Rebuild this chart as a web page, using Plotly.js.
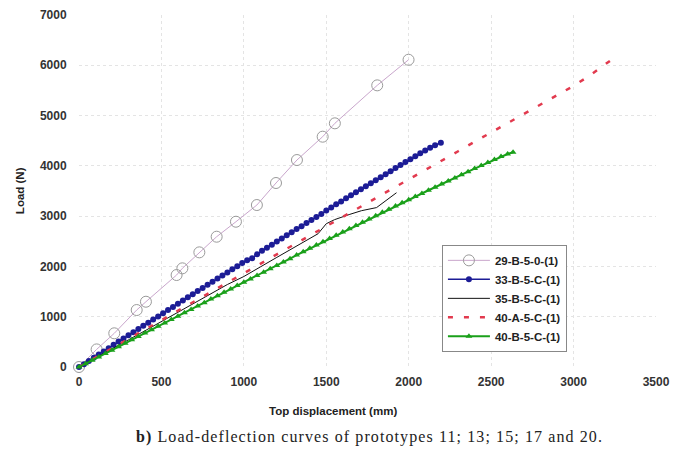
<!DOCTYPE html>
<html>
<head>
<meta charset="utf-8">
<script src="https://cdn.plot.ly/plotly-3.0.1.min.js"></script>
<style>
html,body{margin:0;padding:0;background:#fff;}
#chart{width:688px;height:458px;}
#chart .annotation[data-index="2"] text{letter-spacing:1.1px;}
</style>
</head>
<body>
<div id="chart"></div>
<script>
// Series names
const seriesNames = ["29-B-5-0-(1)", "33-B-5-C-(1)", "35-B-5-C-(1)", "40-A-5-C-(1)", "40-B-5-C-(1)"];

// 29-B-5-0-(1)
const s29x = [0, 107, 214, 350, 406, 592, 627, 730, 835, 952, 1079, 1195, 1322, 1478, 1552, 1809, 1999];
const s29y = [0, 350, 670, 1133, 1298, 1829, 1962, 2280, 2591, 2889, 3221, 3659, 4116, 4580, 4846, 5601, 6110];

// 33-B-5-C-(1)
const s33x = [0,30,60,90,120,150,180,210,240,270,300,330,360,390,420,450,480,510,540,570,600,630,660,690,720,750,780,810,840,870,900,930,960,990,1020,1050,1080,1110,1140,1170,1200,1230,1260,1290,1320,1350,1380,1410,1440,1470,1500,1530,1560,1590,1620,1650,1680,1710,1740,1770,1800,1830,1860,1890,1920,1950,1980,2010,2040,2070,2100,2130,2160,2195];
const s33y = [0,55,120,185,250,310,375,440,505,565,630,690,755,820,880,945,1005,1070,1135,1195,1260,1320,1385,1445,1510,1570,1635,1695,1760,1820,1880,1945,2005,2070,2125,2165,2240,2310,2370,2430,2495,2555,2620,2680,2745,2800,2865,2925,2985,3045,3110,3170,3235,3290,3355,3415,3475,3535,3595,3655,3715,3775,3835,3895,3955,4015,4075,4130,4190,4250,4305,4360,4410,4460];

// 35-B-5-C-(1)
const s35x = [0,100,200,300,400,500,600,700,800,900,1000,1050,1100,1200,1300,1400,1450,1500,1550,1643,1714,1805,1870,1926];
const s35y = [0,175,355,540,720,905,1085,1270,1450,1640,1800,1900,1990,2180,2370,2560,2650,2850,2930,3036,3109,3170,3320,3466];

// 40-A-5-C-(1)
const s40ax = [0,100,200,300,400,500,600,700,800,900,1000,1100,1200,1300,1400,1500,1600,1700,1800,1900,2000,2100,2200,2300,2400,2500,2600,2700,2800,2900,3000,3100,3230];
const s40ay = [0,185,370,560,745,935,1120,1305,1490,1680,1865,2050,2240,2425,2610,2800,2985,3170,3360,3545,3730,3920,4105,4290,4480,4665,4850,5040,5225,5410,5590,5800,6110];

// 40-B-5-C-(1)
const s40bx = [0,40,80,120,160,200,240,280,320,360,400,440,480,520,560,600,640,680,720,760,800,840,880,920,960,1000,1040,1080,1120,1160,1200,1240,1280,1320,1360,1400,1440,1480,1520,1560,1600,1640,1680,1720,1760,1800,1840,1880,1920,1960,2000,2040,2080,2120,2160,2200,2240,2280,2320,2360,2400,2440,2480,2520,2560,2600,2633];
const s40by = [0,65,135,200,270,335,405,470,540,605,675,740,810,875,945,1010,1080,1145,1215,1280,1350,1415,1485,1550,1620,1685,1750,1820,1885,1955,2020,2090,2155,2225,2290,2360,2425,2490,2555,2620,2685,2750,2815,2880,2945,3010,3075,3135,3200,3265,3325,3390,3450,3515,3575,3640,3700,3760,3825,3885,3945,4005,4065,4125,4185,4235,4270];

// Axis ticks
const xTicks = [0, 500, 1000, 1500, 2000, 2500, 3000, 3500];
const yTicks = [0, 1000, 2000, 3000, 4000, 5000, 6000, 7000];

const traces = [
  {x: s29x, y: s29y, name: seriesNames[0], mode: 'lines+markers', cliponaxis: false,
   line: {color: '#c9a6cc', width: 1},
   marker: {symbol: 'circle-open', size: 11, color: '#9a9a9a', line: {width: 1, color: '#9a9a9a'}}},
  {x: s33x, y: s33y, name: seriesNames[1], mode: 'lines+markers', cliponaxis: false,
   line: {color: '#1c1c96', width: 1.5},
   marker: {symbol: 'circle', size: 6, color: '#1c1c96'}},
  {x: s35x, y: s35y, name: seriesNames[2], mode: 'lines', cliponaxis: false,
   line: {color: '#111111', width: 1}},
  {x: s40ax, y: s40ay, name: seriesNames[3], mode: 'lines', cliponaxis: false,
   line: {color: '#e23a4e', width: 2.5, dash: '5px,11px'}},
  {x: s40bx, y: s40by, name: seriesNames[4], mode: 'lines+markers', cliponaxis: false,
   line: {color: '#1aa01a', width: 2},
   marker: {symbol: 'triangle-up', size: 6, color: '#1aa01a'}}
];

const tickFont = {family: 'Liberation Sans, Arial, sans-serif', size: 12, color: '#333', weight: 'bold'};

const layout = {
  width: 688, height: 458,
  margin: {l: 79, r: 32, t: 15, b: 91},
  paper_bgcolor: '#fff', plot_bgcolor: '#fff',
  showlegend: true,
  legend: {x: 0.629, y: 0.347, xanchor: 'left', yanchor: 'top',
    bgcolor: '#fff', bordercolor: '#888', borderwidth: 1,
    font: {family: 'Liberation Sans, Arial, sans-serif', size: 11.5, color: '#222', weight: 'bold'},
    tracegroupgap: 0, itemwidth: 42},
  xaxis: {range: [0, 3500], tickvals: xTicks, ticktext: xTicks.map(String),
    showgrid: true, gridcolor: '#e4e4e4', griddash: 'dot', zeroline: false, showline: false,
    ticks: 'outside', ticklen: 4, tickcolor: 'rgba(0,0,0,0)', tickfont: tickFont, fixedrange: true},
  yaxis: {range: [0, 7000], tickvals: yTicks, ticktext: yTicks.map(String),
    showgrid: true, gridcolor: '#e4e4e4', griddash: 'dot', zeroline: false, showline: false,
    ticks: 'outside', ticklen: 9, tickcolor: 'rgba(0,0,0,0)', tickfont: tickFont, fixedrange: true},
  annotations: [
    {text: 'Top displacement (mm)', xref: 'paper', yref: 'paper', x: 0.44, y: -0.125,
     xanchor: 'center', yanchor: 'middle', showarrow: false,
     font: {family: 'Liberation Sans, Arial, sans-serif', size: 11.5, color: '#222', weight: 'bold'}},
    {text: 'Load (N)', xref: 'paper', yref: 'paper', x: -0.102, y: 0.5, textangle: -90,
     xanchor: 'center', yanchor: 'middle', showarrow: false,
     font: {family: 'Liberation Sans, Arial, sans-serif', size: 11.5, color: '#222', weight: 'bold'}},
    {text: '<b>b)</b> Load-deflection curves of prototypes 11; 13; 15; 17 and 20.', xref: 'paper', yref: 'paper',
     x: 0.503, y: -0.199, xanchor: 'center', yanchor: 'middle', showarrow: false,
     font: {family: 'Liberation Serif, Times New Roman, serif', size: 16, color: '#222'}}
  ]
};

Plotly.newPlot('chart', traces, layout, {displayModeBar: false, staticPlot: true});
</script>
</body>
</html>
